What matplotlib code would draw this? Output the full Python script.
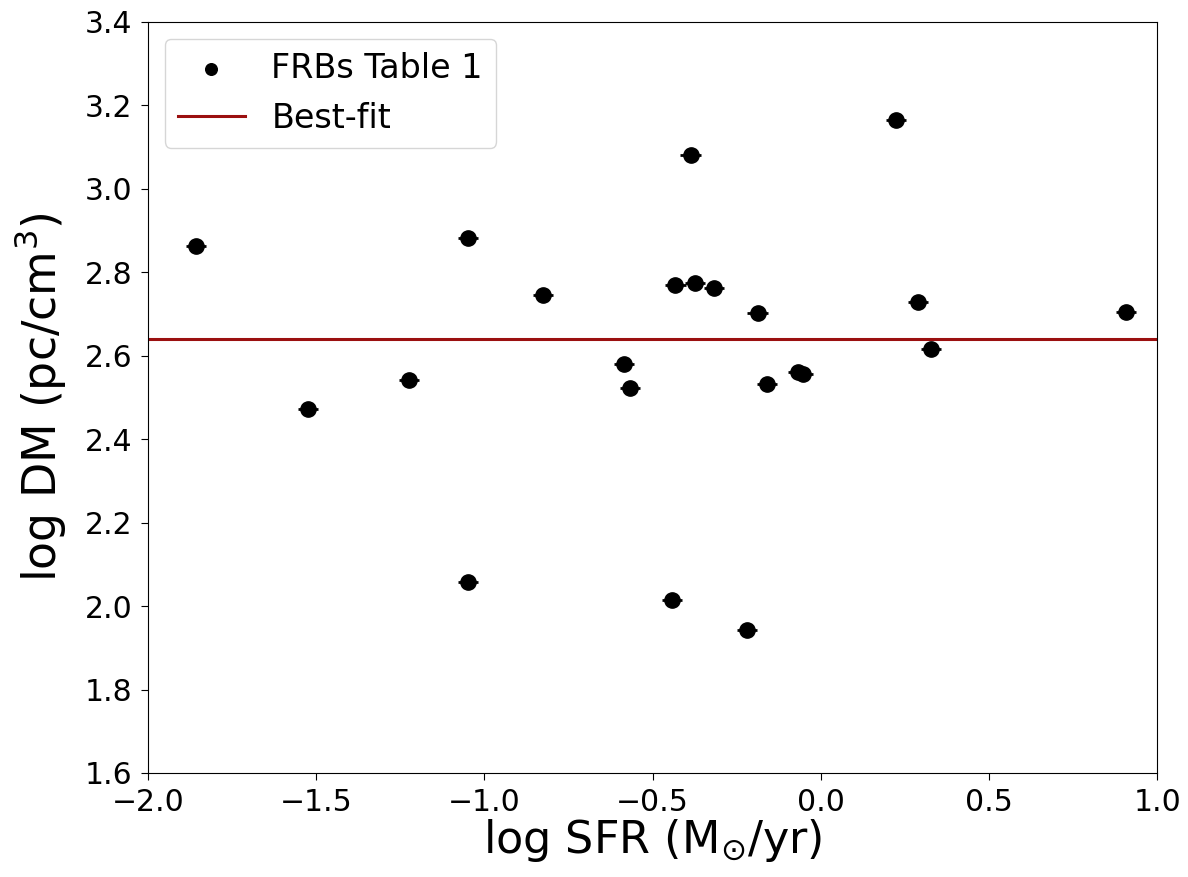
import matplotlib
matplotlib.use("Agg")
import matplotlib.pyplot as plt

### FRB host values
log_sfr = [-1.857, -1.525, -1.225, -1.048, -1.048, -0.826, -0.586, -0.568, -0.443, -0.432, -0.387,
           -0.375, -0.318, -0.220, -0.188, -0.161, -0.068, -0.052, 0.223, 0.289, 0.327, 0.908]
log_dm = [2.863, 2.472, 2.542, 2.882, 2.058, 2.746, 2.580, 2.523, 2.015, 2.770, 3.081,
          2.774, 2.762, 1.943, 2.703, 2.532, 2.561, 2.557, 3.165, 2.729, 2.616, 2.705]
sfr_err = [0.03] * len(log_sfr)
dm_err = [0.006] * len(log_dm)

### best-fit constant
best_fit = 2.640

fig = plt.figure(figsize=(11.88, 8.77), dpi=100)
ax = fig.add_axes([0.1246, 0.1186, 0.8494, 0.8564])

ax.errorbar(log_sfr, log_dm, xerr=sfr_err, yerr=dm_err, fmt='o', color='black',
            ms=11, elinewidth=2, capsize=0, zorder=3)
ax.scatter([], [], color='black', s=70, label='FRBs Table 1')
ax.axhline(best_fit, color='#9b1010', lw=2.2, label='Best-fit')

ax.set_xlim(-2.0, 1.0)
ax.set_ylim(1.6, 3.4)
ax.set_xlabel(r'log SFR (M$_{\odot}$/yr)', fontsize=32, labelpad=0)
ax.set_ylabel(r'log DM (pc/cm$^3$)', fontsize=33, labelpad=12)
ax.tick_params(labelsize=21.5, length=5, pad=6)
ax.legend(loc='upper left', fontsize=24)

fig.savefig('out.png', dpi=100)
